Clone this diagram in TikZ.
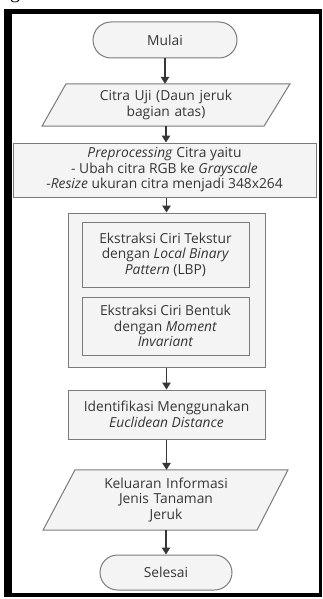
\documentclass[tikz,border=0pt]{standalone}
\usepackage{fontspec}
\setmainfont{Open Sans}
\newfontfamily\capfont{Liberation Serif}
\usetikzlibrary{arrows.meta,shapes.misc,backgrounds,calc}
\definecolor{txt}{HTML}{363636}
\definecolor{edge}{HTML}{7A7A7A}
\definecolor{boxfill}{HTML}{F4F4F4}
\begin{document}
\begin{tikzpicture}[x=1pt,y=-1pt,
  base/.style={font=\fontsize{13.8}{15.5}\selectfont, text=txt, align=center, inner sep=0pt},
  boxstyle/.style={base, draw=edge, line width=1pt, fill=boxfill},
  term/.style={boxstyle, rounded rectangle},
  plain/.style={base},
  shapeline/.style={draw=edge, line width=1pt, fill=boxfill},
  flow/.style={draw=txt, line width=1.2pt, -{Triangle[length=7pt,width=8.5pt]}},
  frame/.style={fill=black}]
\useasboundingbox (0,0) rectangle (323,599);
% cut caption fragment
\begin{scope}
\clip (0,0) rectangle (323,599);
\node[anchor=base west, inner sep=0pt, font=\capfont\fontsize{20}{20}\selectfont] (capg) at (10,-1) {g};
\end{scope}
% outer frame
\fill[frame] (4,9) rectangle (12,597);
\fill[frame] (4,9) rectangle (322,14);
\fill[frame] (319,9) rectangle (322,597);
\fill[frame] (4,593) rectangle (322,597);

\node[term, minimum width=144pt, minimum height=36pt] (mulai) at (165,40) {Mulai};
\node[plain, minimum height=42pt, text width=190pt] (citra) at (166,105) {Citra Uji (Daun jeruk\\bagian atas)};
\node[boxstyle, minimum width=303pt, minimum height=54pt] (prep) at (164.5,170)
  {\textit{Preprocessing} Citra yaitu\\- Ubah citra RGB ke \textit{Grayscale}\\-\textit{Resize} ukuran citra menjadi 348x264};
\node[boxstyle, minimum width=197pt, minimum height=154pt] (big) at (166.5,290) {};
\node[boxstyle, minimum width=167pt, minimum height=65pt] (ciri1) at (165.5,254.5)
  {Ekstraksi Ciri Tekstur\\dengan \textit{Local Binary}\\\textit{Pattern} (LBP)};
\node[boxstyle, minimum width=167pt, minimum height=58pt] (ciri2) at (165.5,326)
  {Ekstraksi Ciri Bentuk\\dengan \textit{Moment}\\\textit{Invariant}};
\node[boxstyle, minimum width=197pt, minimum height=49pt] (ident) at (166.5,414.5)
  {Identifikasi Menggunakan\\\textit{Euclidean Distance}};
\node[plain, minimum height=60pt, text width=170pt] (kel) at (166,500)
  {Keluaran Informasi\\Jenis Tanaman\\Jeruk};
\node[term, minimum width=132pt, minimum height=35pt] (sel) at (166,572.5) {Selesai};

\begin{pgfonlayer}{background}
\draw[shapeline] ([xshift=-100pt]citra.north) -- ([xshift=124pt]citra.north)
  -- ([xshift=98pt]citra.south) -- ([xshift=-124pt]citra.south) -- cycle;
\draw[shapeline] ([xshift=-91pt]kel.north) -- ([xshift=122pt]kel.north)
  -- ([xshift=91pt]kel.south) -- ([xshift=-123pt]kel.south) -- cycle;
\end{pgfonlayer}

\draw[flow] (mulai.south) -- (mulai.south |- citra.north);
\draw[flow] (citra.south) -- (citra.south |- prep.north);
\draw[flow] (big.north |- prep.south) -- (big.north);
\draw[flow] (big.south) -- (ident.north);
\draw[flow] (ident.south) -- (ident.south |- kel.north);
\draw[flow] (kel.south) -- (kel.south |- sel.north);
\end{tikzpicture}
\end{document}
